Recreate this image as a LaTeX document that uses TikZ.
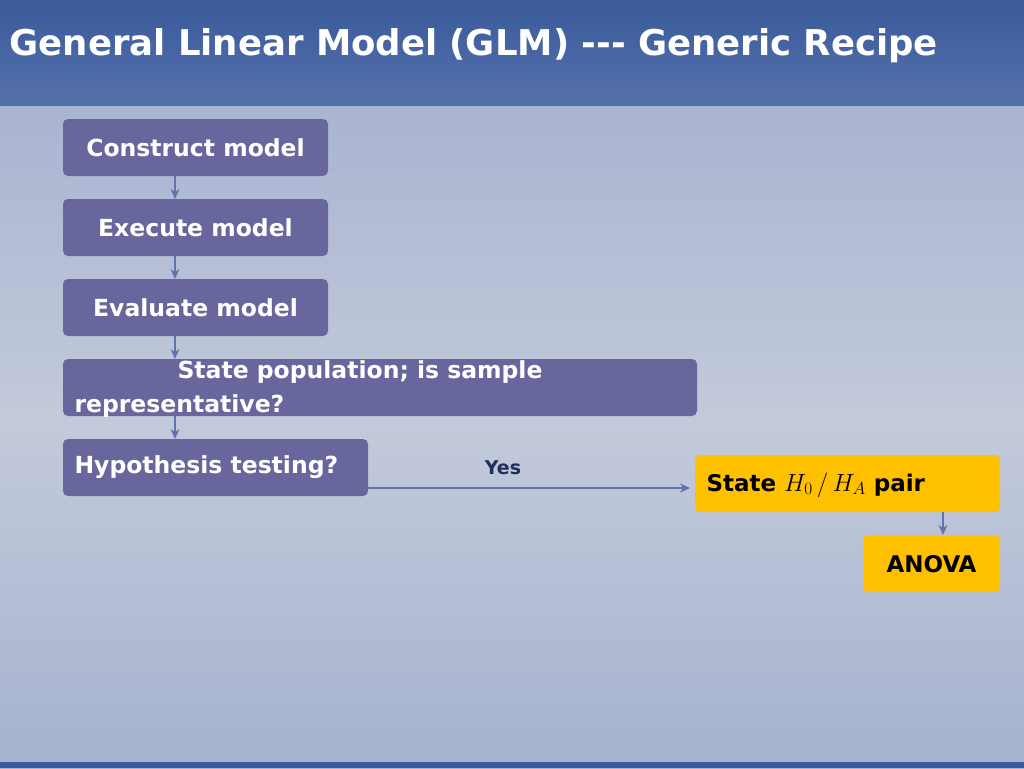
\documentclass[tikz,border=0pt]{standalone}
\usepackage{fontspec}
\setmainfont{DejaVu Sans}
\usetikzlibrary{arrows.meta}
\definecolor{pbox}{HTML}{67679E}
\definecolor{ybox}{HTML}{FFC000}
\definecolor{arr}{HTML}{6272AE}
\definecolor{bgA}{HTML}{A9B4D0}
\definecolor{bgB}{HTML}{C3CADB}
\definecolor{bgC}{HTML}{A6B2CF}
\definecolor{tA}{HTML}{3A5A9A}
\definecolor{tB}{HTML}{5571AC}
\definecolor{yesc}{HTML}{1F2F5F}
\begin{document}
\begin{tikzpicture}[x=1pt,y=-1pt,
 pb/.style={fill=pbox,rounded corners=5pt,draw=none},
 yb/.style={fill=ybox,rounded corners=5pt,draw=none},
 wt/.style={text=white,font=\bfseries\fontsize{23.5}{27}\selectfont,anchor=center},
 bt/.style={text=black,font=\bfseries\fontsize{23}{27}\selectfont},
 ar/.style={draw=arr,line width=1.8pt,-{Stealth[length=10pt,width=9pt]}}]
\useasboundingbox (0,0) rectangle (1024,768);
\shade[top color=bgA,bottom color=bgB] (0,105) rectangle (1024,420);
\shade[top color=bgB,bottom color=bgC] (0,420) rectangle (1024,768);
\shade[top color=tA,bottom color=tB] (0,0) rectangle (1024,105);
\fill[tA] (0,762) rectangle (1024,768);
\node[text=white,font=\bfseries\fontsize{35.5}{40}\selectfont,anchor=west] (title) at (6,46) {General Linear Model (GLM) -{}-{}- Generic Recipe};
\path[pb] (63,119) rectangle (328,176); \node[wt] (c) at (195.5,148) {Construct model};
\path[pb] (63,199) rectangle (328,256); \node[wt] (e) at (195.5,228) {Execute model};
\path[pb] (63,279) rectangle (328,336); \node[wt] (v) at (195.5,308) {Evaluate model};
\path[pb] (63,359) rectangle (697,416);
\node[wt,anchor=west] (s1) at (174,372) {State population; is sample};
\node[wt,anchor=west] (s2) at (71,406) {representative?};
\path[pb] (63,439) rectangle (368,496); \node[wt,anchor=west] (h) at (71,467) {Hypothesis testing?};
\path[yb] (695,455) rectangle (1000,512); \node[bt,anchor=west] (st) at (703,485) {State \normalfont\fontsize{25}{28}\selectfont$H_0\,/\,H_A$\ \bfseries\fontsize{23}{27}\selectfont pair};
\path[yb] (863,535) rectangle (1000,592); \node[bt] (an) at (931.5,564) {ANOVA};
\node[text=yesc,font=\bfseries\fontsize{19}{22}\selectfont] (yes) at (503,468) {Yes};
\coordinate (a1) at (175,176); \coordinate (a2) at (175,199);
\coordinate (b1) at (175,256); \coordinate (b2) at (175,279);
\coordinate (d1) at (175,336); \coordinate (d2) at (175,359);
\coordinate (f1) at (175,416); \coordinate (f2) at (175,439);
\coordinate (g1) at (368,488); \coordinate (g2) at (690,488);
\coordinate (k1) at (943,512); \coordinate (k2) at (943,535);
\draw[ar] (a1)--(a2); \draw[ar] (b1)--(b2); \draw[ar] (d1)--(d2);
\draw[ar] (f1)--(f2); \draw[ar] (g1)--(g2); \draw[ar] (k1)--(k2);
\end{tikzpicture}
\end{document}
